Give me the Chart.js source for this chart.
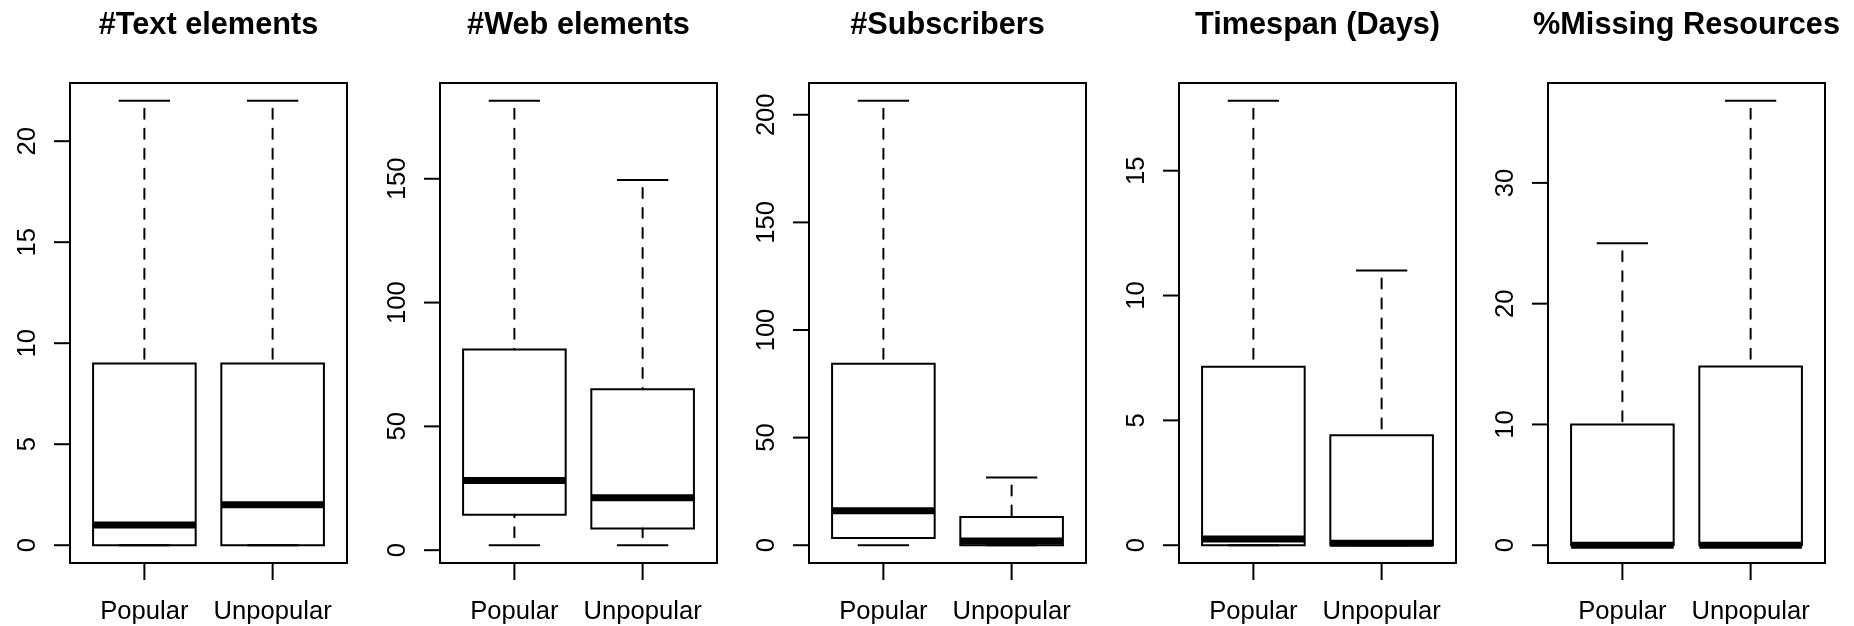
<!DOCTYPE html>
<html>
<head>
<meta charset="utf-8">
<title>Popular vs Unpopular</title>
<script src="https://cdn.jsdelivr.net/npm/chart.js@4.4.1/dist/chart.umd.min.js"></script>
<style>
  html, body { margin: 0; padding: 0; background: #ffffff; }
  #wrap { position: relative; width: 1854px; height: 626px; overflow: hidden; }
  #wrap canvas { position: absolute; top: 0; }
</style>
</head>
<body>
<div id="wrap"></div>
<script>
// Panel titles and the two groups compared in every panel
const panelTitles = ['#Text elements', '#Web elements', '#Subscribers', 'Timespan (Days)', '%Missing Resources'];
const groups = ['Popular', 'Unpopular'];

// Five-number summaries, one [Popular, Unpopular] pair per panel
const lowerWhisker  = [[0, 0],   [2, 2],       [0, 0],     [0, 0],     [0, 0]];
const lowerQuartile = [[0, 0],   [14.3, 8.8],  [3.3, 0],   [0, 0],     [0, 0]];
const medians       = [[1, 2],   [28.1, 21.2], [16, 2],    [0.25, 0.08], [0, 0]];
const upperQuartile = [[9, 9],   [81, 65],     [84.3, 13.1], [7.15, 4.4], [10, 14.8]];
const upperWhisker  = [[22, 22], [181.5, 149.5], [206.5, 31.5], [17.8, 11], [25, 36.8]];

// Y-axis tick labels per panel
const yTicks = [
  [0, 5, 10, 15, 20],
  [0, 50, 100, 150],
  [0, 50, 100, 150, 200],
  [0, 5, 10, 15],
  [0, 10, 20, 30]
];

// Layout of the five side-by-side panels
const PANEL_PITCH = 369.5;
const CANVAS_W = 370;
const CANVAS_H = 626;
const FRAME_PAD = { left: 70, right: 23, top: 83, bottom: 63 };
const BOX_HALF = 0.4;      // half box width in x units
const STAPLE_HALF = 0.2;   // half whisker-cap width
const FONT_FAMILY = '"Liberation Sans", Arial, Helvetica, sans-serif';

// Frame, axes, labels and title in base-graphics style
const framePlugin = {
  id: 'rFrame',
  afterDraw(chart, args, opts) {
    const { ctx, chartArea: a, scales } = chart;
    const xs = scales.x, ys = scales.y;
    ctx.save();
    ctx.strokeStyle = '#000';
    ctx.fillStyle = '#000';
    ctx.lineWidth = 2;
    ctx.lineCap = 'butt';
    ctx.strokeRect(a.left, a.top, a.right - a.left, a.bottom - a.top);

    // y axis ticks with labels reading bottom-to-top
    ctx.font = '25.6px ' + FONT_FAMILY;
    opts.ticks.forEach(v => {
      const py = ys.getPixelForValue(v);
      ctx.beginPath();
      ctx.moveTo(a.left - 16, py);
      ctx.lineTo(a.left, py);
      ctx.stroke();
      ctx.save();
      ctx.translate(a.left - 35.5, py);
      ctx.rotate(-Math.PI / 2);
      ctx.textAlign = 'center';
      ctx.textBaseline = 'alphabetic';
      ctx.fillText(String(v), 0, 0);
      ctx.restore();
    });

    // x axis ticks and group names
    ctx.textAlign = 'center';
    ctx.textBaseline = 'alphabetic';
    groups.forEach((g, i) => {
      const px = xs.getPixelForValue(i + 1);
      ctx.beginPath();
      ctx.moveTo(px, a.bottom);
      ctx.lineTo(px, a.bottom + 17);
      ctx.stroke();
      ctx.fillText(g, px, 619);
    });

    // panel title
    ctx.font = 'bold 30.7px ' + FONT_FAMILY;
    ctx.fillText(opts.title, (a.left + a.right) / 2, 34);
    ctx.restore();
  }
};

function seg(points, width, extra) {
  return Object.assign({
    data: points,
    showLine: true,
    borderColor: '#000',
    backgroundColor: 'transparent',
    borderWidth: width,
    pointRadius: 0,
    pointHoverRadius: 0,
    fill: false,
    tension: 0,
    clip: false,
    borderCapStyle: 'butt',
    borderJoinStyle: 'miter'
  }, extra || {});
}

function buildDatasets(p) {
  const sets = [];
  groups.forEach((g, i) => {
    const x = i + 1;
    const lo = lowerWhisker[p][i], q1 = lowerQuartile[p][i], md = medians[p][i];
    const q3 = upperQuartile[p][i], hi = upperWhisker[p][i];
    const dash = { borderDash: [10, 10], borderDashOffset: 12, borderCapStyle: 'round' };
    // dashed whiskers
    if (hi > q3) sets.push(seg([{ x: x, y: hi }, { x: x, y: q3 }], 2, dash));
    if (lo < q1) sets.push(seg([{ x: x, y: lo }, { x: x, y: q1 }], 2, dash));
    // whisker caps
    sets.push(seg([{ x: x - STAPLE_HALF, y: hi }, { x: x + STAPLE_HALF, y: hi }], 2));
    sets.push(seg([{ x: x - STAPLE_HALF, y: lo }, { x: x + STAPLE_HALF, y: lo }], 2));
    // box
    sets.push(seg([
      { x: x - BOX_HALF, y: q1 }, { x: x + BOX_HALF, y: q1 },
      { x: x + BOX_HALF, y: q3 }, { x: x - BOX_HALF, y: q3 },
      { x: x - BOX_HALF, y: q1 }
    ], 2, { borderCapStyle: 'square' }));
    // median
    sets.push(seg([{ x: x - BOX_HALF, y: md }, { x: x + BOX_HALF, y: md }], 7));
  });
  return sets;
}

const wrap = document.getElementById('wrap');
panelTitles.forEach((title, p) => {
  const canvas = document.createElement('canvas');
  canvas.width = CANVAS_W;
  canvas.height = CANVAS_H;
  canvas.style.width = CANVAS_W + 'px';
  canvas.style.height = CANVAS_H + 'px';
  canvas.style.left = Math.round(p * PANEL_PITCH) + 'px';
  wrap.appendChild(canvas);

  // value range padded by 4% on each side
  const all = lowerWhisker[p].concat(upperWhisker[p]);
  const lo = Math.min.apply(null, all), hi = Math.max.apply(null, all);
  const pad = (hi - lo) * 0.04;

  new Chart(canvas, {
    type: 'scatter',
    data: { datasets: buildDatasets(p) },
    options: {
      responsive: false,
      animation: false,
      devicePixelRatio: 1,
      layout: { padding: FRAME_PAD },
      scales: {
        x: { type: 'linear', min: 0.42, max: 2.58, display: false, bounds: 'data' },
        y: { type: 'linear', min: lo - pad, max: hi + pad, display: false, bounds: 'data' }
      },
      plugins: {
        legend: { display: false },
        tooltip: { enabled: false },
        rFrame: { title: title, ticks: yTicks[p] }
      },
      events: []
    },
    plugins: [framePlugin]
  });
});
</script>
</body>
</html>
